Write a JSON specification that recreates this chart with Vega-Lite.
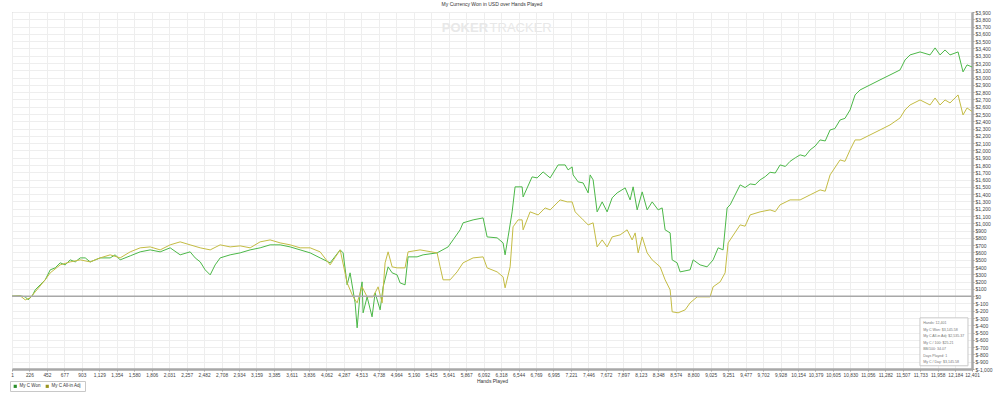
{
  "$schema": "https://vega.github.io/schema/vega-lite/v6.json",
  "width": 960,
  "height": 357,
  "autosize": {"type": "none"},
  "padding": {"left": 12, "top": 12, "right": 28, "bottom": 28},
  "background": "white",
  "config": {
    "font": "Liberation Sans",
    "view": {"stroke": "#b0b0b0", "strokeWidth": 1},
    "axisX": {"grid": true, "gridColor": "#eeeeee", "gridWidth": 1, "labelFontSize": 4.8, "labelColor": "#444", "labelPadding": 1.5, "labelOverlap": false, "labelFlush": false, "tickSize": 2, "tickColor": "#999", "domainColor": "#a8a8a8", "domainWidth": 2.5, "titleFontSize": 5, "titleFontWeight": "normal", "titleColor": "#333", "titlePadding": 1},
    "axisY": {"grid": true, "gridColor": "#eeeeee", "gridWidth": 1, "labelFontSize": 5, "labelColor": "#444", "labelPadding": 1, "labelOverlap": false, "labelFlush": false, "tickSize": 2, "tickColor": "#999", "domainColor": "#a8a8a8", "domainWidth": 2.5}
  },
  "title": {
    "text": "My Currency Won in USD over Hands Played",
    "fontSize": 5,
    "fontWeight": "normal",
    "color": "#333",
    "anchor": "middle",
    "offset": 3
  },
  "datasets": {
    "pts": [
      {"series": "My C Won", "hand": 1, "value": 0},
      {"series": "My C Won", "hand": 107, "value": 4},
      {"series": "My C Won", "hand": 172, "value": -10},
      {"series": "My C Won", "hand": 210, "value": -51},
      {"series": "My C Won", "hand": 262, "value": 4},
      {"series": "My C Won", "hand": 301, "value": 86},
      {"series": "My C Won", "hand": 365, "value": 155},
      {"series": "My C Won", "hand": 430, "value": 224},
      {"series": "My C Won", "hand": 495, "value": 361},
      {"series": "My C Won", "hand": 559, "value": 388},
      {"series": "My C Won", "hand": 624, "value": 457},
      {"series": "My C Won", "hand": 688, "value": 429},
      {"series": "My C Won", "hand": 753, "value": 498},
      {"series": "My C Won", "hand": 818, "value": 470},
      {"series": "My C Won", "hand": 882, "value": 525},
      {"series": "My C Won", "hand": 947, "value": 525},
      {"series": "My C Won", "hand": 1011, "value": 470},
      {"series": "My C Won", "hand": 1076, "value": 498},
      {"series": "My C Won", "hand": 1140, "value": 525},
      {"series": "My C Won", "hand": 1269, "value": 525},
      {"series": "My C Won", "hand": 1334, "value": 567},
      {"series": "My C Won", "hand": 1398, "value": 498},
      {"series": "My C Won", "hand": 1528, "value": 553},
      {"series": "My C Won", "hand": 1657, "value": 608},
      {"series": "My C Won", "hand": 1786, "value": 635},
      {"series": "My C Won", "hand": 1915, "value": 608},
      {"series": "My C Won", "hand": 2044, "value": 663},
      {"series": "My C Won", "hand": 2173, "value": 567},
      {"series": "My C Won", "hand": 2302, "value": 608},
      {"series": "My C Won", "hand": 2367, "value": 525},
      {"series": "My C Won", "hand": 2432, "value": 470},
      {"series": "My C Won", "hand": 2496, "value": 361},
      {"series": "My C Won", "hand": 2561, "value": 292},
      {"series": "My C Won", "hand": 2625, "value": 429},
      {"series": "My C Won", "hand": 2690, "value": 525},
      {"series": "My C Won", "hand": 2819, "value": 567},
      {"series": "My C Won", "hand": 2948, "value": 594},
      {"series": "My C Won", "hand": 3077, "value": 635},
      {"series": "My C Won", "hand": 3206, "value": 663},
      {"series": "My C Won", "hand": 3335, "value": 704},
      {"series": "My C Won", "hand": 3465, "value": 704},
      {"series": "My C Won", "hand": 3594, "value": 676},
      {"series": "My C Won", "hand": 3723, "value": 635},
      {"series": "My C Won", "hand": 3852, "value": 594},
      {"series": "My C Won", "hand": 3981, "value": 525},
      {"series": "My C Won", "hand": 4110, "value": 457},
      {"series": "My C Won", "hand": 4240, "value": 635},
      {"series": "My C Won", "hand": 4278, "value": 594},
      {"series": "My C Won", "hand": 4330, "value": 155},
      {"series": "My C Won", "hand": 4368, "value": 320},
      {"series": "My C Won", "hand": 4433, "value": -92},
      {"series": "My C Won", "hand": 4459, "value": -435},
      {"series": "My C Won", "hand": 4498, "value": 45},
      {"series": "My C Won", "hand": 4523, "value": 196},
      {"series": "My C Won", "hand": 4536, "value": -229},
      {"series": "My C Won", "hand": 4588, "value": -10},
      {"series": "My C Won", "hand": 4652, "value": -284},
      {"series": "My C Won", "hand": 4691, "value": 45},
      {"series": "My C Won", "hand": 4756, "value": -188},
      {"series": "My C Won", "hand": 4795, "value": 128},
      {"series": "My C Won", "hand": 4859, "value": 402},
      {"series": "My C Won", "hand": 4911, "value": 320},
      {"series": "My C Won", "hand": 4975, "value": 292},
      {"series": "My C Won", "hand": 5014, "value": 182},
      {"series": "My C Won", "hand": 5078, "value": 155},
      {"series": "My C Won", "hand": 5117, "value": 539},
      {"series": "My C Won", "hand": 5233, "value": 539},
      {"series": "My C Won", "hand": 5311, "value": 567},
      {"series": "My C Won", "hand": 5492, "value": 594},
      {"series": "My C Won", "hand": 5634, "value": 676},
      {"series": "My C Won", "hand": 5698, "value": 772},
      {"series": "My C Won", "hand": 5789, "value": 910},
      {"series": "My C Won", "hand": 5827, "value": 1006},
      {"series": "My C Won", "hand": 5957, "value": 1047},
      {"series": "My C Won", "hand": 6086, "value": 1074},
      {"series": "My C Won", "hand": 6138, "value": 813},
      {"series": "My C Won", "hand": 6267, "value": 800},
      {"series": "My C Won", "hand": 6344, "value": 731},
      {"series": "My C Won", "hand": 6370, "value": 567},
      {"series": "My C Won", "hand": 6409, "value": 813},
      {"series": "My C Won", "hand": 6461, "value": 1157},
      {"series": "My C Won", "hand": 6499, "value": 1500},
      {"series": "My C Won", "hand": 6590, "value": 1500},
      {"series": "My C Won", "hand": 6603, "value": 1362},
      {"series": "My C Won", "hand": 6719, "value": 1637},
      {"series": "My C Won", "hand": 6784, "value": 1623},
      {"series": "My C Won", "hand": 6861, "value": 1705},
      {"series": "My C Won", "hand": 6952, "value": 1623},
      {"series": "My C Won", "hand": 7055, "value": 1801},
      {"series": "My C Won", "hand": 7146, "value": 1801},
      {"series": "My C Won", "hand": 7184, "value": 1733},
      {"series": "My C Won", "hand": 7236, "value": 1774},
      {"series": "My C Won", "hand": 7249, "value": 1664},
      {"series": "My C Won", "hand": 7314, "value": 1568},
      {"series": "My C Won", "hand": 7378, "value": 1554},
      {"series": "My C Won", "hand": 7443, "value": 1417},
      {"series": "My C Won", "hand": 7469, "value": 1664},
      {"series": "My C Won", "hand": 7507, "value": 1596},
      {"series": "My C Won", "hand": 7559, "value": 1157},
      {"series": "My C Won", "hand": 7624, "value": 1294},
      {"series": "My C Won", "hand": 7688, "value": 1157},
      {"series": "My C Won", "hand": 7753, "value": 1349},
      {"series": "My C Won", "hand": 7817, "value": 1417},
      {"series": "My C Won", "hand": 7921, "value": 1486},
      {"series": "My C Won", "hand": 7985, "value": 1321},
      {"series": "My C Won", "hand": 8024, "value": 1500},
      {"series": "My C Won", "hand": 8076, "value": 1184},
      {"series": "My C Won", "hand": 8141, "value": 1431},
      {"series": "My C Won", "hand": 8205, "value": 1184},
      {"series": "My C Won", "hand": 8270, "value": 1294},
      {"series": "My C Won", "hand": 8347, "value": 1184},
      {"series": "My C Won", "hand": 8399, "value": 1211},
      {"series": "My C Won", "hand": 8437, "value": 910},
      {"series": "My C Won", "hand": 8502, "value": 868},
      {"series": "My C Won", "hand": 8528, "value": 498},
      {"series": "My C Won", "hand": 8592, "value": 457},
      {"series": "My C Won", "hand": 8631, "value": 333},
      {"series": "My C Won", "hand": 8760, "value": 361},
      {"series": "My C Won", "hand": 8799, "value": 498},
      {"series": "My C Won", "hand": 8889, "value": 429},
      {"series": "My C Won", "hand": 8979, "value": 402},
      {"series": "My C Won", "hand": 9057, "value": 498},
      {"series": "My C Won", "hand": 9122, "value": 663},
      {"series": "My C Won", "hand": 9186, "value": 635},
      {"series": "My C Won", "hand": 9238, "value": 1211},
      {"series": "My C Won", "hand": 9277, "value": 1253},
      {"series": "My C Won", "hand": 9406, "value": 1527},
      {"series": "My C Won", "hand": 9470, "value": 1490},
      {"series": "My C Won", "hand": 9535, "value": 1540},
      {"series": "My C Won", "hand": 9600, "value": 1530},
      {"series": "My C Won", "hand": 9664, "value": 1596},
      {"series": "My C Won", "hand": 9730, "value": 1640},
      {"series": "My C Won", "hand": 9793, "value": 1700},
      {"series": "My C Won", "hand": 9860, "value": 1690},
      {"series": "My C Won", "hand": 9922, "value": 1801},
      {"series": "My C Won", "hand": 9990, "value": 1780},
      {"series": "My C Won", "hand": 10051, "value": 1850},
      {"series": "My C Won", "hand": 10120, "value": 1900},
      {"series": "My C Won", "hand": 10181, "value": 1939},
      {"series": "My C Won", "hand": 10245, "value": 1920},
      {"series": "My C Won", "hand": 10310, "value": 2007},
      {"series": "My C Won", "hand": 10375, "value": 2060},
      {"series": "My C Won", "hand": 10439, "value": 2144},
      {"series": "My C Won", "hand": 10505, "value": 2130},
      {"series": "My C Won", "hand": 10568, "value": 2281},
      {"series": "My C Won", "hand": 10630, "value": 2300},
      {"series": "My C Won", "hand": 10697, "value": 2418},
      {"series": "My C Won", "hand": 10760, "value": 2440},
      {"series": "My C Won", "hand": 10826, "value": 2556},
      {"series": "My C Won", "hand": 10891, "value": 2762},
      {"series": "My C Won", "hand": 10955, "value": 2830},
      {"series": "My C Won", "hand": 11084, "value": 2899},
      {"series": "My C Won", "hand": 11213, "value": 2968},
      {"series": "My C Won", "hand": 11342, "value": 3036},
      {"series": "My C Won", "hand": 11472, "value": 3105},
      {"series": "My C Won", "hand": 11536, "value": 3242},
      {"series": "My C Won", "hand": 11601, "value": 3311},
      {"series": "My C Won", "hand": 11730, "value": 3352},
      {"series": "My C Won", "hand": 11859, "value": 3311},
      {"series": "My C Won", "hand": 11924, "value": 3407},
      {"series": "My C Won", "hand": 11988, "value": 3311},
      {"series": "My C Won", "hand": 12053, "value": 3379},
      {"series": "My C Won", "hand": 12117, "value": 3311},
      {"series": "My C Won", "hand": 12221, "value": 3352},
      {"series": "My C Won", "hand": 12285, "value": 3078},
      {"series": "My C Won", "hand": 12337, "value": 3174},
      {"series": "My C Won", "hand": 12401, "value": 3146},

      {"series": "My C All-in Adj", "hand": 1, "value": 0},
      {"series": "My C All-in Adj", "hand": 107, "value": 4},
      {"series": "My C All-in Adj", "hand": 172, "value": -51},
      {"series": "My C All-in Adj", "hand": 236, "value": -23},
      {"series": "My C All-in Adj", "hand": 301, "value": 59},
      {"series": "My C All-in Adj", "hand": 430, "value": 224},
      {"series": "My C All-in Adj", "hand": 495, "value": 320},
      {"series": "My C All-in Adj", "hand": 624, "value": 429},
      {"series": "My C All-in Adj", "hand": 753, "value": 470},
      {"series": "My C All-in Adj", "hand": 882, "value": 498},
      {"series": "My C All-in Adj", "hand": 1011, "value": 470},
      {"series": "My C All-in Adj", "hand": 1140, "value": 525},
      {"series": "My C All-in Adj", "hand": 1269, "value": 567},
      {"series": "My C All-in Adj", "hand": 1398, "value": 525},
      {"series": "My C All-in Adj", "hand": 1528, "value": 608},
      {"series": "My C All-in Adj", "hand": 1657, "value": 663},
      {"series": "My C All-in Adj", "hand": 1786, "value": 676},
      {"series": "My C All-in Adj", "hand": 1915, "value": 635},
      {"series": "My C All-in Adj", "hand": 2044, "value": 704},
      {"series": "My C All-in Adj", "hand": 2173, "value": 745},
      {"series": "My C All-in Adj", "hand": 2302, "value": 704},
      {"series": "My C All-in Adj", "hand": 2432, "value": 663},
      {"series": "My C All-in Adj", "hand": 2561, "value": 635},
      {"series": "My C All-in Adj", "hand": 2690, "value": 704},
      {"series": "My C All-in Adj", "hand": 2819, "value": 676},
      {"series": "My C All-in Adj", "hand": 2948, "value": 690},
      {"series": "My C All-in Adj", "hand": 3077, "value": 663},
      {"series": "My C All-in Adj", "hand": 3206, "value": 745},
      {"series": "My C All-in Adj", "hand": 3335, "value": 772},
      {"series": "My C All-in Adj", "hand": 3465, "value": 731},
      {"series": "My C All-in Adj", "hand": 3594, "value": 704},
      {"series": "My C All-in Adj", "hand": 3723, "value": 663},
      {"series": "My C All-in Adj", "hand": 3852, "value": 663},
      {"series": "My C All-in Adj", "hand": 3981, "value": 608},
      {"series": "My C All-in Adj", "hand": 4110, "value": 429},
      {"series": "My C All-in Adj", "hand": 4240, "value": 635},
      {"series": "My C All-in Adj", "hand": 4330, "value": 182},
      {"series": "My C All-in Adj", "hand": 4407, "value": -10},
      {"series": "My C All-in Adj", "hand": 4459, "value": -92},
      {"series": "My C All-in Adj", "hand": 4523, "value": 128},
      {"series": "My C All-in Adj", "hand": 4588, "value": -10},
      {"series": "My C All-in Adj", "hand": 4665, "value": -10},
      {"series": "My C All-in Adj", "hand": 4730, "value": 128},
      {"series": "My C All-in Adj", "hand": 4782, "value": -92},
      {"series": "My C All-in Adj", "hand": 4820, "value": 457},
      {"series": "My C All-in Adj", "hand": 4859, "value": 608},
      {"series": "My C All-in Adj", "hand": 4911, "value": 402},
      {"series": "My C All-in Adj", "hand": 4975, "value": 388},
      {"series": "My C All-in Adj", "hand": 5078, "value": 388},
      {"series": "My C All-in Adj", "hand": 5117, "value": 608},
      {"series": "My C All-in Adj", "hand": 5272, "value": 635},
      {"series": "My C All-in Adj", "hand": 5492, "value": 594},
      {"series": "My C All-in Adj", "hand": 5531, "value": 402},
      {"series": "My C All-in Adj", "hand": 5569, "value": 224},
      {"series": "My C All-in Adj", "hand": 5660, "value": 224},
      {"series": "My C All-in Adj", "hand": 5750, "value": 333},
      {"series": "My C All-in Adj", "hand": 5827, "value": 457},
      {"series": "My C All-in Adj", "hand": 5957, "value": 525},
      {"series": "My C All-in Adj", "hand": 6086, "value": 539},
      {"series": "My C All-in Adj", "hand": 6138, "value": 388},
      {"series": "My C All-in Adj", "hand": 6267, "value": 333},
      {"series": "My C All-in Adj", "hand": 6344, "value": 265},
      {"series": "My C All-in Adj", "hand": 6370, "value": 114},
      {"series": "My C All-in Adj", "hand": 6435, "value": 402},
      {"series": "My C All-in Adj", "hand": 6473, "value": 951},
      {"series": "My C All-in Adj", "hand": 6538, "value": 1047},
      {"series": "My C All-in Adj", "hand": 6590, "value": 1047},
      {"series": "My C All-in Adj", "hand": 6603, "value": 910},
      {"series": "My C All-in Adj", "hand": 6693, "value": 1157},
      {"series": "My C All-in Adj", "hand": 6797, "value": 1115},
      {"series": "My C All-in Adj", "hand": 6887, "value": 1211},
      {"series": "My C All-in Adj", "hand": 6952, "value": 1184},
      {"series": "My C All-in Adj", "hand": 7081, "value": 1321},
      {"series": "My C All-in Adj", "hand": 7172, "value": 1294},
      {"series": "My C All-in Adj", "hand": 7236, "value": 1294},
      {"series": "My C All-in Adj", "hand": 7275, "value": 1157},
      {"series": "My C All-in Adj", "hand": 7378, "value": 1047},
      {"series": "My C All-in Adj", "hand": 7443, "value": 978},
      {"series": "My C All-in Adj", "hand": 7507, "value": 1006},
      {"series": "My C All-in Adj", "hand": 7559, "value": 676},
      {"series": "My C All-in Adj", "hand": 7624, "value": 772},
      {"series": "My C All-in Adj", "hand": 7688, "value": 676},
      {"series": "My C All-in Adj", "hand": 7753, "value": 813},
      {"series": "My C All-in Adj", "hand": 7856, "value": 841},
      {"series": "My C All-in Adj", "hand": 7946, "value": 910},
      {"series": "My C All-in Adj", "hand": 8011, "value": 772},
      {"series": "My C All-in Adj", "hand": 8050, "value": 868},
      {"series": "My C All-in Adj", "hand": 8089, "value": 594},
      {"series": "My C All-in Adj", "hand": 8141, "value": 813},
      {"series": "My C All-in Adj", "hand": 8205, "value": 594},
      {"series": "My C All-in Adj", "hand": 8270, "value": 498},
      {"series": "My C All-in Adj", "hand": 8373, "value": 402},
      {"series": "My C All-in Adj", "hand": 8437, "value": 224},
      {"series": "My C All-in Adj", "hand": 8502, "value": 86},
      {"series": "My C All-in Adj", "hand": 8528, "value": -215},
      {"series": "My C All-in Adj", "hand": 8605, "value": -229},
      {"series": "My C All-in Adj", "hand": 8696, "value": -188},
      {"series": "My C All-in Adj", "hand": 8760, "value": -92},
      {"series": "My C All-in Adj", "hand": 8851, "value": -10},
      {"series": "My C All-in Adj", "hand": 9018, "value": -10},
      {"series": "My C All-in Adj", "hand": 9057, "value": 128},
      {"series": "My C All-in Adj", "hand": 9148, "value": 196},
      {"series": "My C All-in Adj", "hand": 9212, "value": 320},
      {"series": "My C All-in Adj", "hand": 9251, "value": 731},
      {"series": "My C All-in Adj", "hand": 9277, "value": 772},
      {"series": "My C All-in Adj", "hand": 9406, "value": 978},
      {"series": "My C All-in Adj", "hand": 9470, "value": 960},
      {"series": "My C All-in Adj", "hand": 9535, "value": 1115},
      {"series": "My C All-in Adj", "hand": 9664, "value": 1157},
      {"series": "My C All-in Adj", "hand": 9793, "value": 1184},
      {"series": "My C All-in Adj", "hand": 9860, "value": 1160},
      {"series": "My C All-in Adj", "hand": 9922, "value": 1253},
      {"series": "My C All-in Adj", "hand": 10051, "value": 1321},
      {"series": "My C All-in Adj", "hand": 10181, "value": 1321},
      {"series": "My C All-in Adj", "hand": 10310, "value": 1390},
      {"series": "My C All-in Adj", "hand": 10439, "value": 1458},
      {"series": "My C All-in Adj", "hand": 10505, "value": 1440},
      {"series": "My C All-in Adj", "hand": 10568, "value": 1664},
      {"series": "My C All-in Adj", "hand": 10697, "value": 1870},
      {"series": "My C All-in Adj", "hand": 10760, "value": 1850},
      {"series": "My C All-in Adj", "hand": 10826, "value": 2007},
      {"series": "My C All-in Adj", "hand": 10891, "value": 2144},
      {"series": "My C All-in Adj", "hand": 10955, "value": 2144},
      {"series": "My C All-in Adj", "hand": 11084, "value": 2213},
      {"series": "My C All-in Adj", "hand": 11213, "value": 2281},
      {"series": "My C All-in Adj", "hand": 11342, "value": 2350},
      {"series": "My C All-in Adj", "hand": 11472, "value": 2446},
      {"series": "My C All-in Adj", "hand": 11536, "value": 2556},
      {"series": "My C All-in Adj", "hand": 11601, "value": 2624},
      {"series": "My C All-in Adj", "hand": 11730, "value": 2693},
      {"series": "My C All-in Adj", "hand": 11859, "value": 2624},
      {"series": "My C All-in Adj", "hand": 11924, "value": 2720},
      {"series": "My C All-in Adj", "hand": 11988, "value": 2624},
      {"series": "My C All-in Adj", "hand": 12053, "value": 2693},
      {"series": "My C All-in Adj", "hand": 12117, "value": 2652},
      {"series": "My C All-in Adj", "hand": 12221, "value": 2762},
      {"series": "My C All-in Adj", "hand": 12285, "value": 2487},
      {"series": "My C All-in Adj", "hand": 12337, "value": 2583},
      {"series": "My C All-in Adj", "hand": 12401, "value": 2535}
    ]
  },
  "layer": [
    {
      "data": {"name": "pts"},
      "mark": {"type": "line", "strokeWidth": 1, "interpolate": "linear"},
      "encoding": {
        "x": {
          "field": "hand",
          "type": "quantitative",
          "scale": {"domain": [1, 12401], "nice": false, "zero": false},
          "axis": {
            "orient": "bottom",
            "title": "Hands Played",
            "grid": true,
            "tickCount": 200,
            "values": [1, 226, 452, 677, 903, 1129, 1354, 1580, 1806, 2031, 2257, 2482, 2708, 2934, 3159, 3385, 3611, 3836, 4062, 4287, 4513, 4738, 4964, 5190, 5415, 5641, 5867, 6092, 6318, 6544, 6769, 6995, 7221, 7446, 7672, 7897, 8123, 8348, 8574, 8800, 9025, 9251, 9477, 9702, 9928, 10154, 10379, 10605, 10830, 11056, 11282, 11507, 11733, 11958, 12184, 12401],
            "format": ",d",
            "labelOverlap": false
          }
        },
        "y": {
          "field": "value",
          "type": "quantitative",
          "scale": {"domain": [-1000, 3900], "nice": false, "zero": false},
          "axis": {
            "orient": "right",
            "title": null,
            "grid": true,
            "tickCount": 200,
            "values": [-1000, -900, -800, -700, -600, -500, -400, -300, -200, -100, 0, 100, 200, 300, 400, 500, 600, 700, 800, 900, 1000, 1100, 1200, 1300, 1400, 1500, 1600, 1700, 1800, 1900, 2000, 2100, 2200, 2300, 2400, 2500, 2600, 2700, 2800, 2900, 3000, 3100, 3200, 3300, 3400, 3500, 3600, 3700, 3800, 3900],
            "labelExpr": "datum.value < 0 ? '$-' + format(-datum.value, ',') : '$' + format(datum.value, ',')",
            "labelOverlap": false
          }
        },
        "color": {
          "field": "series",
          "type": "nominal",
          "scale": {"domain": ["My C Won", "My C All-in Adj"], "range": ["#4cb848", "#c4bc44"]},
          "legend": {
            "orient": "none",
            "legendX": -2,
            "legendY": 369,
            "direction": "horizontal",
            "title": null,
            "symbolType": "square",
            "symbolSize": 10,
            "symbolStrokeWidth": 0,
            "labelFontSize": 4.5,
            "labelColor": "#333",
            "labelOffset": 2,
            "columnPadding": 4,
            "padding": 3,
            "strokeColor": "#c8c8c8",
            "fillColor": "white",
            "encode": {
              "symbols": {
                "update": {
                  "fill": {"signal": "datum.value === 'My C Won' ? '#2a8f2a' : '#9a9420'"},
                  "opacity": {"value": 1}
                }
              }
            }
          }
        }
      }
    },
    {
      "data": {"values": [{}]},
      "mark": {"type": "rule", "color": "#a8a8a8", "strokeWidth": 1.5},
      "encoding": {"y": {"datum": 0, "type": "quantitative"}}
    },
    {
      "data": {"values": [{}]},
      "mark": {"type": "text", "align": "right", "baseline": "middle", "fontSize": 13, "fontWeight": "bold", "color": "#e8e8e8", "font": "Liberation Sans"},
      "encoding": {
        "x": {"datum": 6150, "type": "quantitative"},
        "y": {"datum": 3680, "type": "quantitative"},
        "text": {"value": "POKER"}
      }
    },
    {
      "data": {"values": [{}]},
      "mark": {"type": "text", "align": "left", "baseline": "middle", "fontSize": 13, "fontWeight": "normal", "color": "#e8e8e8", "font": "Liberation Sans"},
      "encoding": {
        "x": {"datum": 6170, "type": "quantitative"},
        "y": {"datum": 3680, "type": "quantitative"},
        "text": {"value": "TRACKER"}
      }
    },
    {
      "data": {"values": [{}]},
      "mark": {"type": "rect", "fill": "white", "stroke": "#c8c8c8", "strokeWidth": 1},
      "encoding": {
        "x": {"datum": 11729, "type": "quantitative"},
        "x2": {"datum": 12349},
        "y": {"datum": -298, "type": "quantitative"},
        "y2": {"datum": -956}
      }
    },
    {
      "data": {"values": [{}]},
      "mark": {"type": "text", "align": "left", "baseline": "middle", "fontSize": 3.6, "lineHeight": 6.5, "color": "#777"},
      "encoding": {
        "x": {"datum": 11770, "type": "quantitative"},
        "y": {"datum": -370, "type": "quantitative"},
        "text": {"value": ["Hands: 12,401", "My C Won: $3,145.58", "My C All-in Adj: $2,535.37", "My C / 100: $25.21", "BB/100: 34.07", "Days Played: 1", "My C / Day: $3,145.58"]}
      }
    }
  ]
}
